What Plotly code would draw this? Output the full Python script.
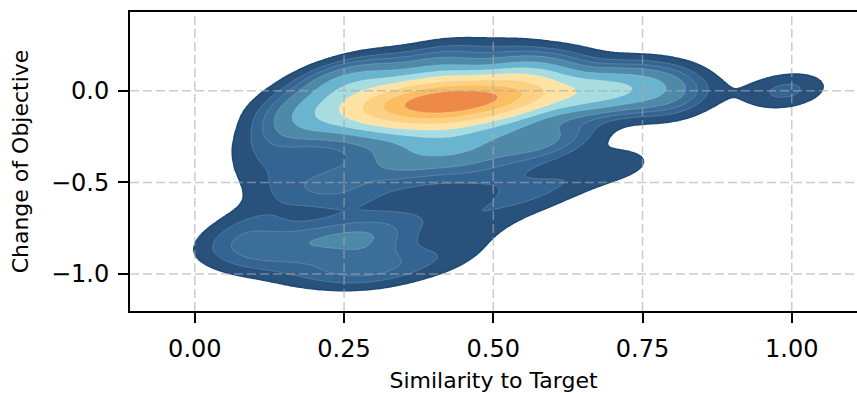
import numpy as np
import plotly.graph_objects as go

# ---- sample points (x = similarity to target, y = change of objective, w = count) ----
pts = [
    # broad outer cloud
    (0.30, 0.15, 1), (0.42, 0.21, 1), (0.52, 0.21, 1), (0.62, 0.16, 1), (0.72, 0.11, 1),
    (0.22, 0.05, 1), (0.78, 0.08, 1),
    (0.16, -0.05, 1), (0.83, 0.00, 0.6), (0.99, 0.00, 1.8),
    (0.14, -0.15, 1), (0.80, -0.10, 1),
    (0.12, -0.28, 1), (0.64, -0.22, 1),
    (0.12, -0.40, 1), (0.71, -0.40, 1.2),
    (0.13, -0.52, 0.8), (0.62, -0.50, 1),
    (0.12, -0.66, 0.7), (0.55, -0.60, 1),
    (0.08, -0.76, 1), (0.48, -0.72, 0.8),
    (0.05, -0.86, 1), (0.45, -0.85, 0.7),
    (0.10, -0.93, 1), (0.40, -0.94, 0.8),
    (0.18, -0.98, 1), (0.25, -1.00, 1), (0.32, -0.99, 1),
    (0.25, -0.30, 1), (0.35, -0.30, 1), (0.45, -0.30, 1), (0.55, -0.30, 1),
    (0.25, -0.45, 1), (0.35, -0.45, 0.8), (0.45, -0.45, 0.7), (0.52, -0.47, 0.8),
    (0.25, -0.60, 1), (0.35, -0.60, 0.7), (0.30, -0.90, 1),
    (0.44, -0.62, 0.6), (0.40, -0.70, 0.4),
    # lower-left lobe
    (0.15, -0.83, 1), (0.21, -0.81, 1.2), (0.27, -0.79, 1.2), (0.32, -0.77, 1),
    (0.21, -0.52, 1),
    # main body / core
    (0.43, -0.06, 10), (0.37, -0.07, 8), (0.49, -0.045, 8), (0.33, -0.085, 5), (0.53, -0.035, 5),
    (0.28, -0.09, 3), (0.58, -0.02, 3), (0.42, 0.02, 3), (0.42, -0.14, 3),
    (0.22, -0.11, 2), (0.64, -0.02, 2), (0.30, 0.03, 2), (0.55, 0.05, 2),
    (0.32, -0.20, 1.5), (0.42, -0.25, 1.5), (0.52, -0.18, 1.5),
    (0.66, 0.00, 2), (0.74, -0.01, 1.5), (0.79, 0.00, 1),
    (0.70, -0.02, 1.5), (0.20, -0.20, 1.5), (0.35, -0.38, 1.3), (0.45, -0.35, 1.3),
    (0.58, -0.28, 1.5), (0.25, 0.05, 1.5), (0.40, 0.12, 1.5), (0.55, 0.12, 1.5),
]
pts_x = [p[0] for p in pts]
pts_y = [p[1] for p in pts]
pts_w = [p[2] for p in pts]

band_colors = ["#28527c", "#336492", "#3b6e98", "#4e8aa8", "#69b4ce",
               "#a7dce0", "#fee3a4", "#fdd184", "#fbbe63", "#ee8a48"]
x_ticks = [0.0, 0.25, 0.5, 0.75, 1.0]
x_tick_labels = ["0.00", "0.25", "0.50", "0.75", "1.00"]
y_ticks = [-1.0, -0.5, 0.0]
y_tick_labels = ["\u22121.0", "\u22120.5", "0.0"]
x_title = "Similarity to Target"
y_title = "Change of Objective"

# ---- Gaussian KDE on a grid ----
sx, sy, rho = 0.055, 0.08, 0.25
cov = np.array([[sx * sx, rho * sx * sy], [rho * sx * sy, sy * sy]])
inv = np.linalg.inv(cov)
gx = np.linspace(-0.2, 1.2, 281)
gy = np.linspace(-1.4, 0.6, 301)
X, Y = np.meshgrid(gx, gy)
dens = np.zeros_like(X)
for px, py, pw in zip(pts_x, pts_y, pts_w):
    dx = X - px
    dy = Y - py
    q = inv[0, 0] * dx * dx + 2 * inv[0, 1] * dx * dy + inv[1, 1] * dy * dy
    dens += pw * np.exp(-0.5 * q)
dens /= sum(pts_w) * 2 * np.pi * np.sqrt(np.linalg.det(cov))

# iso-proportion levels (like seaborn kdeplot, thresh=0.05)
props = np.linspace(0.05, 1.0, 11)
vals = np.sort(dens.ravel())[::-1]
cum = np.cumsum(vals) / vals.sum()
idx = np.searchsorted(cum, 1 - props)
levels = np.take(vals, idx, mode="clip")
xp = np.concatenate([[0.0], levels])
fp = np.arange(-1, len(levels))
zidx = np.interp(dens, xp, fp)

# step colorscale: transparent below threshold
cs = [[0.0, "rgba(0,0,0,0)"], [0.05, "rgba(0,0,0,0)"]]
for k, c in enumerate(band_colors):
    lo = round(0.05 + 0.1 * k, 4)
    hi = round(min(0.15 + 0.1 * k, 1.0), 4)
    cs.append([lo, c])
    cs.append([hi, c])

fig = go.Figure()
fig.add_trace(go.Contour(
    x=gx, y=gy, z=zidx, colorscale=cs, showscale=False, hoverinfo="skip",
    contours=dict(start=0, end=9, size=1, coloring="fill", showlines=True),
    line=dict(color="rgba(255,255,255,0.28)", width=0.6, smoothing=1.0),
))
fig.add_trace(go.Contour(
    x=gx, y=gy, z=zidx, showscale=False, hoverinfo="skip",
    contours=dict(start=0, end=0.5, size=1, coloring="none"),
    line=dict(color="#1f4a74", width=1.8, smoothing=1.0),
))

# dashed grid drawn above the fills
grid = dict(color="rgba(170,170,170,0.6)", width=1.5, dash="9px,4px")
shapes = []
for xv in x_ticks:
    shapes.append(dict(type="line", xref="x", yref="paper", x0=xv, x1=xv, y0=0, y1=1,
                       line=grid, layer="above"))
for yv in y_ticks:
    shapes.append(dict(type="line", xref="paper", yref="y", x0=0, x1=1, y0=yv, y1=yv,
                       line=grid, layer="above"))

fig.update_layout(
    width=857, height=393,
    margin=dict(l=130, r=0, t=12, b=82),
    paper_bgcolor="white", plot_bgcolor="white",
    font=dict(family="DejaVu Sans", size=22, color="black"),
    showlegend=False,
    shapes=shapes,
    xaxis=dict(range=[-0.1086, 1.1093], tickvals=x_ticks, ticktext=x_tick_labels,
               tickfont=dict(size=24), ticklabelstandoff=5,
               showgrid=False, zeroline=False, showline=True, linecolor="black",
               linewidth=2, mirror=True, ticks="outside", ticklen=10, tickwidth=1.7,
               tickcolor="black", title=dict(text=x_title, standoff=15, font=dict(size=22))),
    yaxis=dict(range=[-1.202, 0.430], tickvals=y_ticks, ticktext=y_tick_labels,
               tickfont=dict(size=24), ticklabelstandoff=4,
               showgrid=False, zeroline=False, showline=True, linecolor="black",
               linewidth=2, mirror=False, ticks="outside", ticklen=10, tickwidth=1.7,
               tickcolor="black", title=dict(text=y_title, standoff=16, font=dict(size=22))),
)
fig.write_html("out.html", post_script="document.body.style.margin='0';",
               config={"displayModeBar": False})
